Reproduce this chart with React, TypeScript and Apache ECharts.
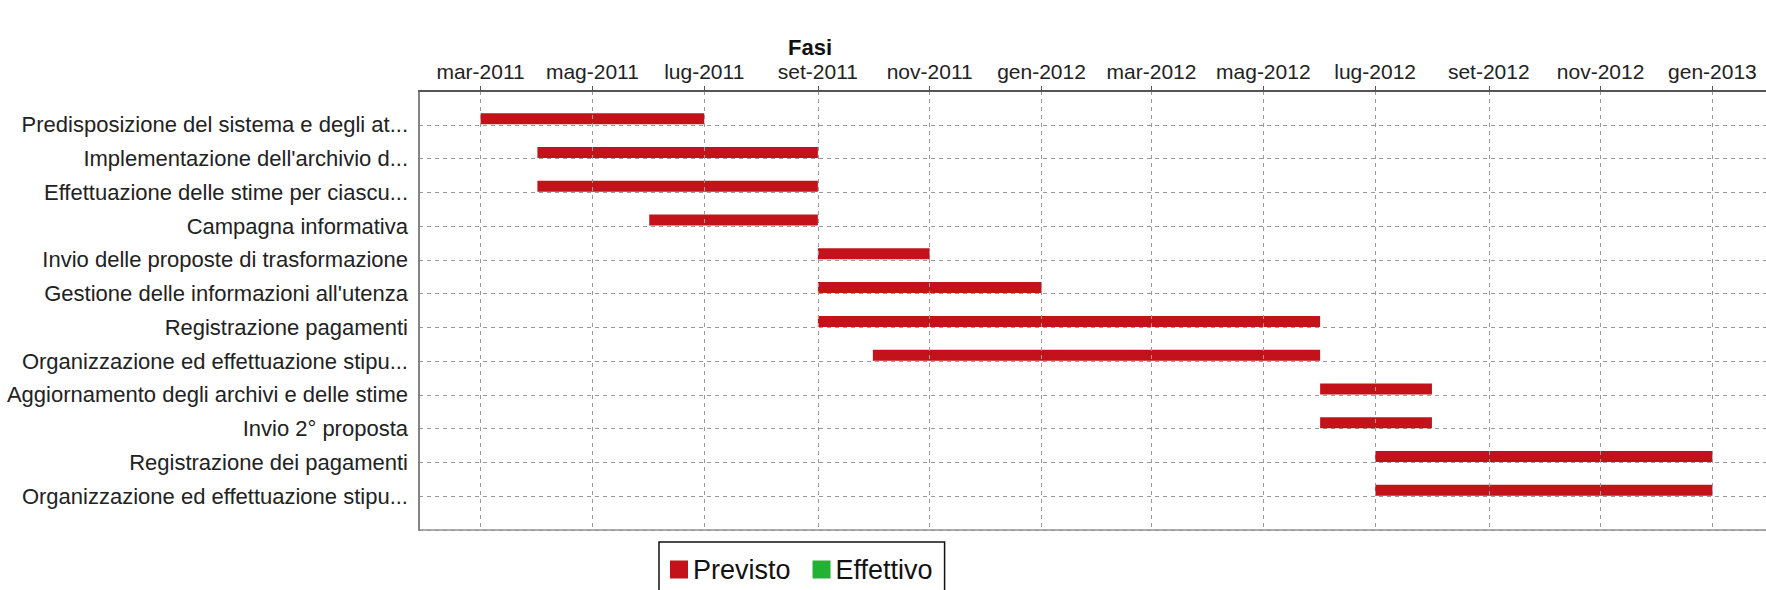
import React, { useEffect, useRef } from "react";
import * as echarts from "echarts";

const TASKS = [
  "Predisposizione del sistema e degli at...",
  "Implementazione dell'archivio d...",
  "Effettuazione delle stime per ciascu...",
  "Campagna informativa",
  "Invio delle proposte di trasformazione",
  "Gestione delle informazioni all'utenza",
  "Registrazione pagamenti",
  "Organizzazione ed effettuazione stipu...",
  "Aggiornamento degli archivi e delle stime",
  "Invio 2° proposta",
  "Registrazione dei pagamenti",
  "Organizzazione ed effettuazione stipu...",
];

const PLANNED_START = [
  "2011-03-01", "2011-04-01", "2011-04-01", "2011-06-01", "2011-09-01", "2011-09-01",
  "2011-09-01", "2011-10-01", "2012-06-01", "2012-06-01", "2012-07-01", "2012-07-01",
];
const PLANNED_END = [
  "2011-07-01", "2011-09-01", "2011-09-01", "2011-09-01", "2011-11-01", "2012-01-01",
  "2012-06-01", "2012-06-01", "2012-08-01", "2012-08-01", "2013-01-01", "2013-01-01",
];

const TICK_DATES = [
  "2011-03-01", "2011-05-01", "2011-07-01", "2011-09-01", "2011-11-01", "2012-01-01",
  "2012-03-01", "2012-05-01", "2012-07-01", "2012-09-01", "2012-11-01", "2013-01-01",
];
const TICK_LABELS = [
  "mar-2011", "mag-2011", "lug-2011", "set-2011", "nov-2011", "gen-2012",
  "mar-2012", "mag-2012", "lug-2012", "set-2012", "nov-2012", "gen-2013",
];

const SERIES_NAMES = ["Previsto", "Effettivo"];
const SERIES_COLORS = ["#C4121B", "#22B133"];

const FONT = "'Liberation Sans', Arial, sans-serif";

const DAY = 86400000;

// days since 2011-01-01 (UTC)
function dayNum(s: string): number {
  const [y, m, d] = s.split("-").map(Number);
  return Math.round((Date.UTC(y, m - 1, d) - Date.UTC(2011, 0, 1)) / DAY);
}

export default function App() {
  const ref = useRef<HTMLDivElement>(null);

  useEffect(() => {
    if (!ref.current) return;
    const chart = echarts.init(ref.current, null, { renderer: "svg" });

    const tickVals = TICK_DATES.map(dayNum);
    const first = dayNum(PLANNED_START[0]);
    const last = dayNum(PLANNED_END[PLANNED_END.length - 1]);
    const margin = (last - first) * 0.05;

    const planned = TASKS.map((_, i) => [i, dayNum(PLANNED_START[i]), dayNum(PLANNED_END[i])]);

    const renderBar = (params: any, api: any) => {
      const row = api.value(0);
      const s = api.coord([api.value(1), row]);
      const e = api.coord([api.value(2), row]);
      const h = 11;
      return {
        type: "rect",
        shape: { x: s[0], y: s[1] - h - 0.5, width: e[0] - s[0], height: h },
        style: { fill: api.visual("color") },
      };
    };

    chart.setOption({
      animation: false,
      backgroundColor: "#ffffff",
      title: {
        text: "Fasi",
        left: 788,
        top: 36,
        padding: 0,
        textStyle: {
          fontFamily: FONT,
          fontSize: 22,
          lineHeight: 22,
          fontWeight: "bold",
          color: "#111",
        },
      },
      legend: {
        left: 659,
        top: 542,
        orient: "horizontal",
        icon: "rect",
        itemWidth: 18,
        itemHeight: 18,
        itemGap: 22,
        padding: [14, 12, 14, 11],
        borderColor: "#111",
        borderWidth: 1.5,
        borderRadius: 0,
        textStyle: { fontFamily: FONT, fontSize: 27, color: "#111" },
        data: SERIES_NAMES.map((n, i) => ({ name: n, itemStyle: { color: SERIES_COLORS[i] } })),
      },
      grid: {
        left: 419,
        top: 91,
        right: -8,
        bottom: 60,
        containLabel: false,
        outerBoundsMode: "none",
        show: true,
        backgroundColor: "#ffffff",
        borderColor: "#aaaaaa",
        borderWidth: 2,
      },
      xAxis: {
        type: "value",
        position: "top",
        min: first - margin,
        max: last + margin,
        axisLine: { show: true, onZero: false, lineStyle: { color: "#555", width: 2 } },
        axisTick: { show: true, length: 5, lineStyle: { color: "#555" }, customValues: tickVals },
        axisLabel: {
          customValues: tickVals,
          fontFamily: FONT,
          fontSize: 21,
          lineHeight: 22,
          color: "#222",
          margin: 9,
          formatter: (v: number) => {
            const idx = tickVals.findIndex((t) => Math.abs(t - v) < 0.5);
            return idx >= 0 ? TICK_LABELS[idx] : "";
          },
        },
        splitLine: { show: false },
        z: 5,
      },
      yAxis: {
        type: "value",
        min: -1,
        max: TASKS.length,
        interval: 1,
        inverse: true,
        axisLine: { show: true, onZero: false, lineStyle: { color: "#777", width: 1.5 } },
        axisTick: { show: false },
        axisLabel: {
          fontFamily: FONT,
          fontSize: 22,
          color: "#222",
          margin: 11,
          formatter: (v: number) => (v >= 0 && v < TASKS.length ? TASKS[v] : ""),
        },
        splitLine: { show: true, lineStyle: { color: "#999", type: [4, 4], width: 1 } },
      },
      series: [
        {
          name: SERIES_NAMES[0],
          type: "custom",
          renderItem: renderBar,
          itemStyle: { color: SERIES_COLORS[0] },
          encode: { x: [1, 2], y: 0 },
          data: planned,
          markLine: {
            silent: true,
            symbol: "none",
            label: { show: false },
            lineStyle: { color: "#999", type: [4, 4], width: 1 },
            data: tickVals.map((t) => ({ xAxis: t })),
          },
          z: 3,
        },
        {
          name: SERIES_NAMES[1],
          type: "custom",
          renderItem: renderBar,
          itemStyle: { color: SERIES_COLORS[1] },
          encode: { x: [1, 2], y: 0 },
          data: [],
        },
      ],
    });

    return () => chart.dispose();
  }, []);

  return (
    <div
      ref={ref}
      style={{ position: "fixed", left: 0, top: 0, width: 1766, height: 590, background: "#fff" }}
    />
  );
}
